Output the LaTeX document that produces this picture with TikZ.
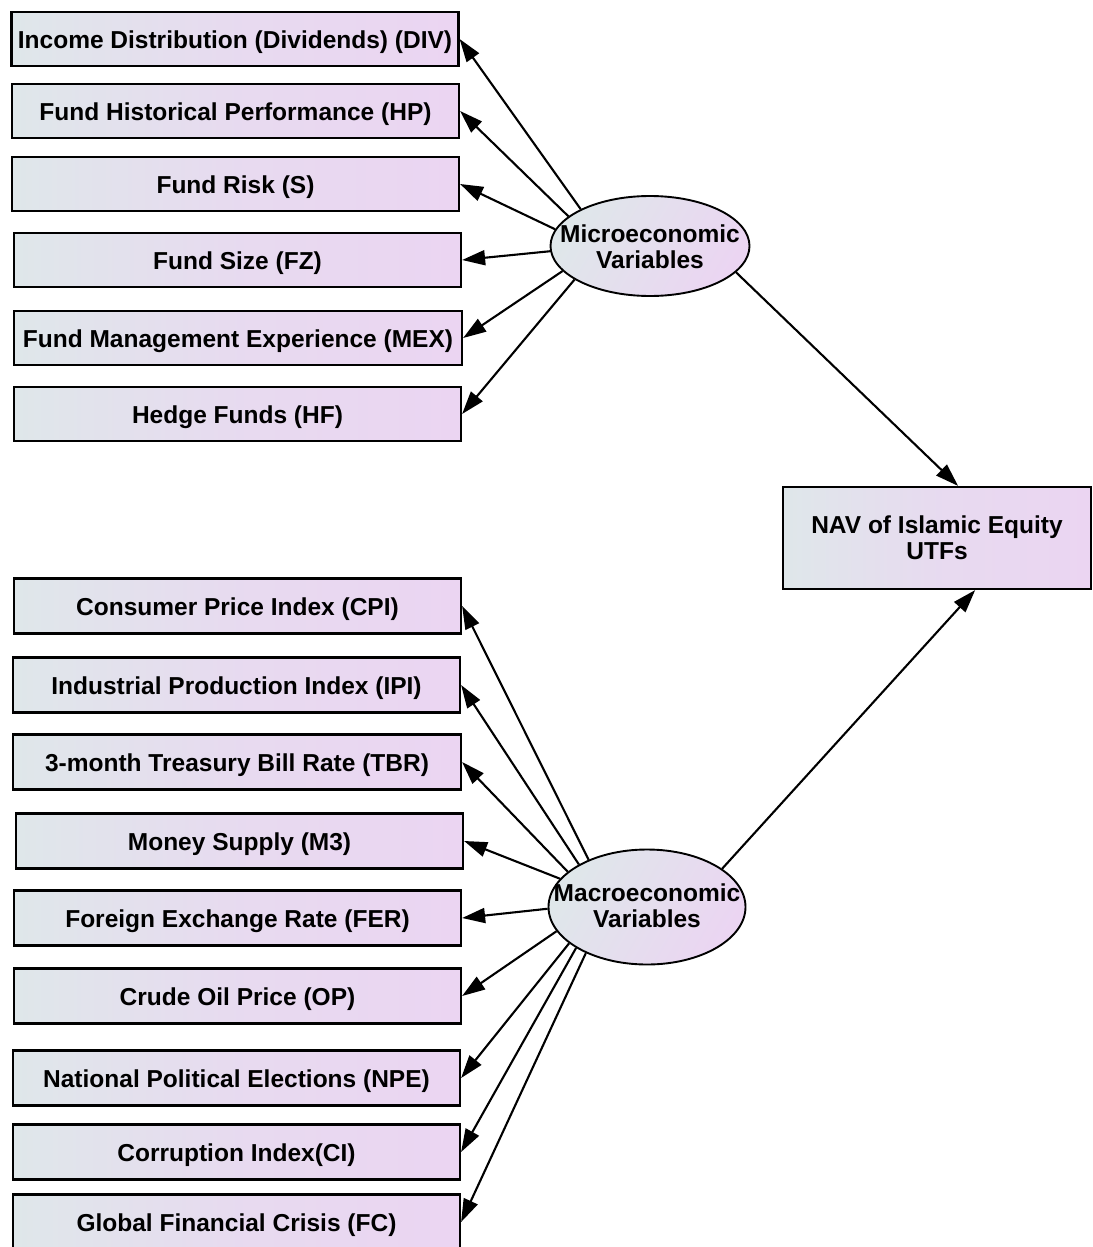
\documentclass[tikz,border=0pt]{standalone}
\usepackage{fontspec}
\setmainfont{Liberation Sans}
\usetikzlibrary{arrows.meta,shapes.geometric,calc}
\definecolor{cL}{HTML}{DFE7EA}
\definecolor{cR}{HTML}{EBD5F2}
\begin{document}
\begin{tikzpicture}[x=1pt,y=-1pt,
  txt/.style={font=\fontsize{24.5}{26}\selectfont\bfseries},
  vbase/.style={draw=black,line width=2.2pt,left color=cL,right color=cR,middle color=cR!70!cL,
    minimum width=447pt,minimum height=54pt,inner sep=0pt,txt},
  vbox/.style={vbase,text height=19pt,text depth=0pt},
  lat/.style={draw=black,line width=1.9pt,ellipse,left color=cL,right color=cR,shading angle=60,
    minimum width=199pt,minimum height=100pt,inner sep=0pt},
  lattxt/.style={txt,align=center,inner sep=0pt},
  arr/.style={-{Triangle[length=23pt,width=15pt]},line width=2.1pt}]
\useasboundingbox (0,0) rectangle (1092,1247);
% micro boxes
\node[vbox] (div) at (235,39) {Income Distribution (Dividends) (DIV)};
\node[vbox] (hp) at (235.5,111) {Fund Historical Performance (HP)};
\node[vbox] (s) at (235.5,184) {Fund Risk (S)};
\node[vbox] (fz) at (237.5,260) {Fund Size (FZ)};
\node[vbox,minimum width=448pt] (mex) at (238,338) {Fund Management Experience (MEX)};
\node[vbox] (hf) at (237.5,414) {Hedge Funds (HF)};
% macro boxes
\node[vbox,minimum height=55pt] (cpi) at (237.5,606) {Consumer Price Index (CPI)};
\node[vbox,minimum height=55pt] (ipi) at (236.5,685) {Industrial Production Index (IPI)};
\node[vbox,minimum height=55pt,minimum width=448pt] (tbr) at (237,762) {3-month Treasury Bill Rate (TBR)};
\node[vbox,minimum height=55pt] (m3) at (239.5,841) {Money Supply (M3)};
\node[vbox,minimum height=55pt] (fer) at (237.5,918) {Foreign Exchange Rate (FER)};
\node[vbox,minimum height=55pt] (op) at (237.5,996) {Crude Oil Price (OP)};
\node[vbox,minimum height=55pt] (npe) at (236.5,1078) {National Political Elections (NPE)};
\node[vbox,minimum height=55pt] (ci) at (236.5,1152) {Corruption Index(CI)};
\node[vbox,minimum height=55pt] (fc) at (236.5,1222) {Global Financial Crisis (FC)};
% outcome
\node[vbase,minimum width=308pt,minimum height=102pt,align=center] (nav) at (937,538) {NAV of Islamic Equity\\UTFs};
% latent
\node[lat] (mic) at (650,246) {};
\node[lattxt] (mict) at (650,247) {Microeconomic\\Variables};
\node[lat,minimum width=197pt,minimum height=115pt] (mac) at (647,907) {};
\node[lattxt] (mact) at (647,906) {Macroeconomic\\Variables};
% arrows
\foreach \a/\t in {152/div,160/hp,170.6/s,183.5/fz,196.2/mex,204.3/hf}
  \draw[arr] (mic.\a) -- (\t.east);
\foreach \a/\t in {141.7/cpi,148.6/ipi,156.2/tbr,162.2/m3,181.7/fer,195.2/op,205.4/npe,210.4/ci,217/fc}
  \draw[arr] (mac.\a) -- (\t.east);
\coordinate (navtop) at ($(nav.north west)!0.568!(nav.north east)$);
\coordinate (navbot) at ($(nav.south west)!0.623!(nav.south east)$);
\draw[arr] (mic.-17) -- (navtop);
\draw[arr] (mac.27) -- (navbot);
\end{tikzpicture}
\end{document}
